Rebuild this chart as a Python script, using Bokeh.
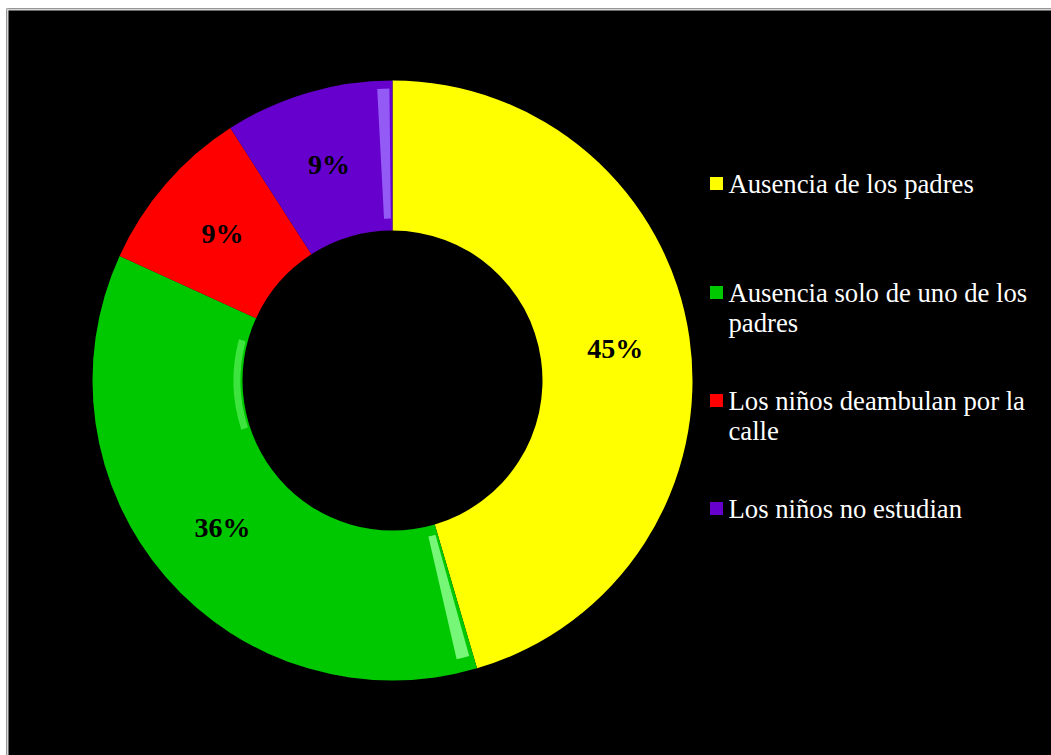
import math
from bokeh.plotting import figure
from bokeh.models import Range1d, ColumnDataSource
from bokeh.core.properties import value
from bokeh.embed import file_html
from bokeh.resources import INLINE

# ---- data ----
categories = ["Ausencia de los padres", "Ausencia solo de uno de los padres",
              "Los niños deambulan por la calle", "Los niños no estudian"]
counts = [5, 4, 1, 1]
colors = ["#FFFF00", "#00C800", "#FF0000", "#6600CC"]
legend_lines = [["Ausencia de los padres"],
                ["Ausencia solo de uno de los", "padres"],
                ["Los niños deambulan por la", "calle"],
                ["Los niños no estudian"]]

W, H = 1051, 755
OX, OY = 6, 8          # frame origin on the page
FW, FH = W - OX, H - OY

p = figure(width=W, height=H, output_backend="svg", toolbar_location=None,
           x_range=Range1d(0, FW), y_range=Range1d(0, FH),
           min_border_left=OX, min_border_top=OY, min_border_right=0, min_border_bottom=0)
p.axis.visible = False
p.grid.visible = False
p.outline_line_color = None
p.background_fill_color = "#000000"
p.border_fill_color = "#FFFFFF"

# page coords -> data coords
def px(x):
    return x - OX
def py(y):
    return H - y

# light gray frame lines (top and left)
p.quad(left=[0, 0], right=[2, FW], bottom=[0, FH - 2], top=[FH, FH],
       fill_color="#D6D6D6", line_color=None)

cx, cy = px(392), py(380)
r_out, r_in = 300, 150

total = sum(counts)
fracs = [c / total for c in counts]
starts, ends, mids = [], [], []
a = math.pi / 2
for f in fracs:
    e = a - f * 2 * math.pi
    starts.append(e)
    ends.append(a)
    mids.append((a + e) / 2)
    a = e

src = ColumnDataSource(dict(start=starts, end=ends, color=colors))
p.annular_wedge(x=cx, y=cy, inner_radius=r_in, outer_radius=r_out,
                start_angle="start", end_angle="end", color="color",
                line_color=None, source=src)

# bevel highlights (decorative)
ga = starts[0]  # green/yellow boundary angle
p.annular_wedge(x=cx, y=cy, inner_radius=160, outer_radius=286,
                start_angle=ga - math.radians(3.4), end_angle=ga - math.radians(0.8),
                color="#8CFF8C", alpha=0.85, line_color=None)
p.annular_wedge(x=cx, y=cy, inner_radius=152, outer_radius=159,
                start_angle=math.radians(165), end_angle=math.radians(198),
                color="#7CFF7C", alpha=0.5, line_color=None)
pa = math.pi / 2  # purple/yellow boundary (top)
p.annular_wedge(x=cx, y=cy, inner_radius=162, outer_radius=292,
                start_angle=pa + math.radians(0.6), end_angle=pa + math.radians(3.0),
                color="#A070FF", alpha=0.8, line_color=None)

# percentage labels
r_lab = 225
lab_x = [cx + r_lab * math.cos(m) for m in mids]
lab_y = [cy + r_lab * math.sin(m) for m in mids]
labels = [f"{round(f * 100)}%" for f in fracs]
p.text(x=lab_x, y=lab_y, text=labels, text_align="center", text_baseline="middle",
       text_font=value("Liberation Serif"), text_font_style="bold",
       text_font_size="28px", text_color="#000000")

# legend (manual)
leg_y = [183, 292, 400, 508]
p.rect(x=[px(716)] * 4, y=[py(v) for v in leg_y], width=13, height=13,
       width_units="screen", height_units="screen", fill_color=colors,
       line_color=None)
tx, ty, tt = [], [], []
for lines, yy in zip(legend_lines, leg_y):
    for i, ln in enumerate(lines):
        tx.append(px(728))
        ty.append(py(yy + 30 * i))
        tt.append(ln)
p.text(x=tx, y=ty, text=tt, text_align="left", text_baseline="middle",
       text_font=value("Liberation Serif"), text_font_size="26.7px",
       text_color="#FFFFFF")

open("out.html", "w").write(file_html(p, INLINE))
